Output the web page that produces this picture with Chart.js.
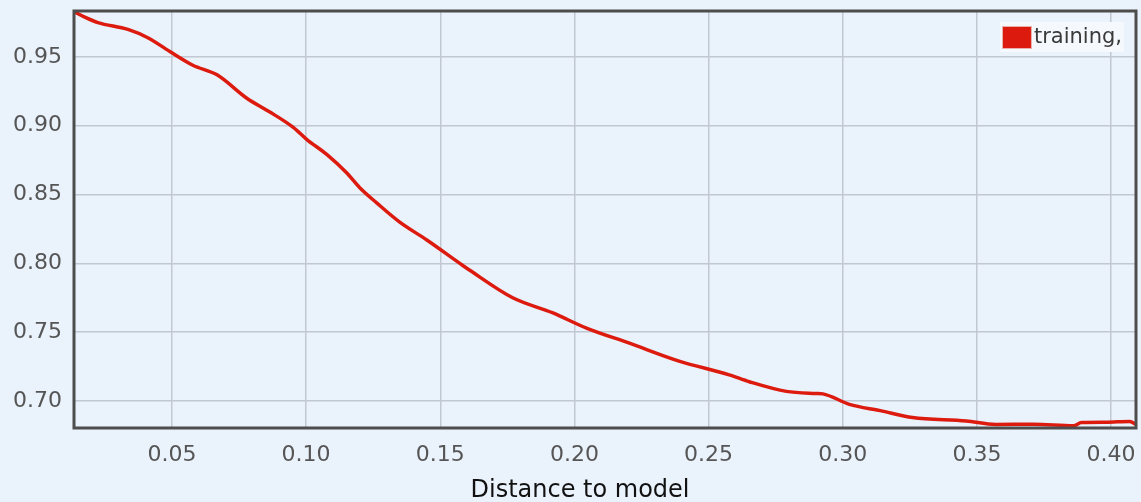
<!DOCTYPE html>
<html>
<head>
<meta charset="utf-8">
<script src="https://cdn.jsdelivr.net/npm/chart.js@4"></script>
<style>
  html, body { margin: 0; padding: 0; background: #eaf2fc; }
  #wrap { width: 1141px; height: 502px; position: relative; }
</style>
</head>
<body>
<div id="wrap"><canvas id="distCanvas"></canvas></div>
<script>
var ctx = document.getElementById('distCanvas').getContext('2d');

// values
var distance = [0.0135, 0.0175, 0.0224, 0.0336, 0.041, 0.050, 0.0578, 0.0668, 0.0779, 0.0865, 0.0951, 0.1003,
	0.1078, 0.115, 0.120, 0.1263, 0.1349, 0.145, 0.1573, 0.161, 0.177, 0.192, 0.2045, 0.2205, 0.239,
	0.2577, 0.2652, 0.279, 0.290, 0.2926, 0.3025, 0.314, 0.326, 0.346, 0.357, 0.371, 0.386, 0.389,
	0.398, 0.407, 0.4093];
var training = [0.983, 0.979, 0.975, 0.970, 0.964, 0.953, 0.944, 0.937, 0.920, 0.910, 0.899, 0.890,
	0.879, 0.866, 0.855, 0.844, 0.830, 0.817, 0.800, 0.795, 0.775, 0.764, 0.753, 0.742, 0.729,
	0.719, 0.714, 0.707, 0.7055, 0.7052, 0.6976, 0.693, 0.688, 0.6855, 0.683, 0.6832, 0.682, 0.6844,
	0.6846, 0.6852, 0.683];
var xTicks = [0.05, 0.10, 0.15, 0.20, 0.25, 0.30, 0.35, 0.40];
var yTicks = [0.70, 0.75, 0.80, 0.85, 0.90, 0.95];
var xTitle = 'Distance to model';

var points = [];
for (let i = 0; i < distance.length; i++) {
	points.push({ x: distance[i], y: training[i] });
}

// dark frame, legend box and axis title
var framePlugin = {
	id: 'frame',
	afterDraw: function (chart) {
		var a = chart.chartArea;
		var c = chart.ctx;
		var ds = chart.data.datasets[0];
		c.save();
		c.strokeStyle = '#4d4d4d';
		c.lineWidth = 3;
		c.strokeRect(a.left, a.top, a.right - a.left, a.bottom - a.top);

		// legend, top right inside the plot
		c.font = '21px "DejaVu Sans"';
		var tw = c.measureText(ds.label).width;
		var lx = a.right - 12 - tw - 34;
		var ly = a.top + 11;
		c.fillStyle = '#f5f9fe';
		c.fillRect(lx - 2, ly, tw + 36, 30);
		c.fillStyle = ds.borderColor;
		c.fillRect(lx + 1, ly + 5, 28, 21);
		c.strokeStyle = '#e8b0aa';
		c.lineWidth = 1;
		c.strokeRect(lx + 0.5, ly + 4.5, 29, 22);
		c.fillStyle = '#3a3a3a';
		c.textBaseline = 'middle';
		c.fillText(ds.label, lx + 32, ly + 16);

		// x axis title
		c.font = '24px "DejaVu Sans"';
		c.fillStyle = '#111';
		c.textAlign = 'center';
		c.textBaseline = 'alphabetic';
		c.fillText(xTitle, 580, 497);
		c.restore();
	}
};

var chart = new Chart(ctx, {
	type: 'line',
	data: {
		datasets: [{
			label: 'training,',
			data: points,
			borderColor: '#dd1a0e',
			backgroundColor: '#dd1a0e',
			borderWidth: 3.5,
			pointRadius: 0,
			cubicInterpolationMode: 'monotone',
			fill: false,
		}]
	},
	options: {
		responsive: true,
		maintainAspectRatio: false,
		animation: false,
		layout: { padding: { top: 11, right: 5, left: 0, bottom: 0 } },
		plugins: {
			legend: { display: false },
			tooltip: { enabled: false },
		},
		scales: {
			x: {
				type: 'linear',
				min: 0.0135,
				max: 0.4093,
				afterBuildTicks: function (axis) {
					axis.ticks = xTicks.map(function (v) { return { value: v }; });
				},
				afterFit: function (axis) {
					axis.height = 74;
					axis.paddingLeft = 0;
					axis.paddingRight = 0;
				},
				grid: { color: '#c2c8d1', lineWidth: 1.5, drawTicks: false },
				border: { display: false },
				ticks: {
					color: '#555',
					padding: 14,
					maxRotation: 0,
					font: { family: 'DejaVu Sans', size: 22 },
					callback: function (v) { return v.toFixed(2); }
				}
			},
			y: {
				min: 0.6804,
				max: 0.9834,
				afterBuildTicks: function (axis) {
					axis.ticks = yTicks.map(function (v) { return { value: v }; });
				},
				afterFit: function (axis) {
					axis.width = 74;
					axis.paddingTop = 0;
					axis.paddingBottom = 0;
				},
				grid: { color: '#c2c8d1', lineWidth: 1.5, drawTicks: false },
				border: { display: false },
				ticks: {
					color: '#555',
					padding: 12,
					font: { family: 'DejaVu Sans', size: 22 },
					callback: function (v) { return v.toFixed(2); }
				}
			}
		}
	},
	plugins: [framePlugin],
});
</script>
</body>
</html>
